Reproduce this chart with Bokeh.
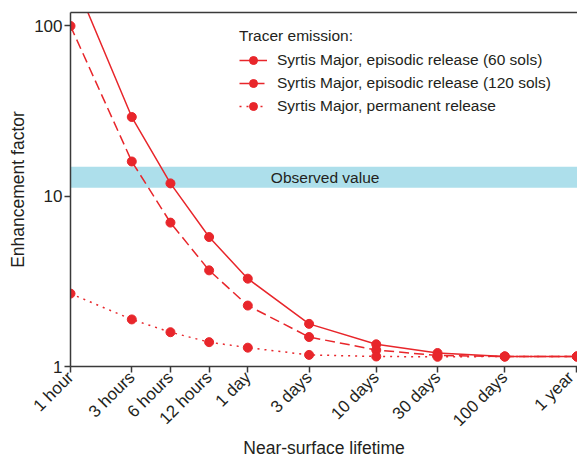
from bokeh.plotting import figure
from bokeh.models import (FixedTicker, LogAxis, BoxAnnotation, Label, Legend, LegendItem, Range1d, Title)
from bokeh.embed import file_html
from bokeh.resources import INLINE

# ---- data ----
lifetime_hours = [1, 3, 6, 12, 24, 72, 240, 720, 2400, 8760]
tick_labels = ["1 hour", "3 hours", "6 hours", "12 hours", "1 day",
               "3 days", "10 days", "30 days", "100 days", "1 year"]
episodic_60 = [210, 29.2, 11.9, 5.76, 3.28, 1.78, 1.35, 1.20, 1.145, 1.145]
episodic_120 = [100, 16.0, 7.0, 3.67, 2.28, 1.49, 1.25, 1.16, 1.145, 1.145]
permanent = [2.68, 1.89, 1.59, 1.39, 1.29, 1.17, 1.145, 1.14, 1.145, 1.145]
observed_low, observed_high = 11.2, 14.9
y_ticks = [1, 10, 100]

RED = "#E8262B"
INK = "#231F20"
AXIS = "#3A3A3A"
FONT = "Liberation Sans"
X_MIN, X_MAX = 1, 8850

p = figure(width=577, height=458, x_axis_type="log", y_axis_type="log",
           x_range=Range1d(X_MIN, X_MAX), y_range=Range1d(1, 120),
           output_backend="svg", toolbar_location=None,
           min_border_left=70, min_border_right=0, min_border_top=12, min_border_bottom=92)
p.outline_line_color = None
p.xgrid.visible = False
p.ygrid.visible = False
p.background_fill_color = "white"

# observed band
band = BoxAnnotation(bottom=observed_low, top=observed_high, fill_color="#ADDFEB",
                     fill_alpha=1.0, line_color=None, level="underlay")
p.add_layout(band)
p.add_layout(Label(x=96, y=(observed_low * observed_high) ** 0.5, text="Observed value",
                   text_align="center", text_baseline="middle",
                   text_font=FONT, text_font_size="15.5px", text_color=INK))

l1 = p.line(lifetime_hours, episodic_60, line_color=RED, line_width=1.5)
s1 = p.scatter(lifetime_hours, episodic_60, size=9, fill_color=RED, line_color=RED)
l2 = p.line(lifetime_hours, episodic_120, line_color=RED, line_width=1.5, line_dash="10 5")
s2 = p.scatter(lifetime_hours, episodic_120, size=9, fill_color=RED, line_color=RED)
l3 = p.line(lifetime_hours, permanent, line_color=RED, line_width=1.5, line_dash="2 5")
s3 = p.scatter(lifetime_hours, permanent, size=9, fill_color=RED, line_color=RED)

legend = Legend(items=[
    LegendItem(label="Syrtis Major, episodic release (60 sols)", renderers=[l1, s1]),
    LegendItem(label="Syrtis Major, episodic release (120 sols)", renderers=[l2, s2]),
    LegendItem(label="Syrtis Major, permanent release", renderers=[l3, s3]),
], location=(169, 250), title="Tracer emission:")
legend.title_text_font = FONT
legend.title_text_font_size = "15.5px"
legend.title_text_font_style = "normal"
legend.title_text_color = INK
legend.title_standoff = 5
legend.label_text_font = FONT
legend.label_text_font_size = "15.5px"
legend.label_text_color = INK
legend.label_standoff = 10
legend.glyph_width = 28
legend.glyph_height = 20
legend.label_height = 20
legend.spacing = 3
legend.padding = 0
legend.margin = 0
legend.border_line_color = None
legend.background_fill_alpha = 0
p.add_layout(legend)

# axes
xa = p.xaxis[0]
xa.ticker = FixedTicker(ticks=lifetime_hours)
xa.major_label_overrides = {t: l for t, l in zip(lifetime_hours, tick_labels)}
xa.major_label_orientation = 0.7854

ya = p.yaxis[0]
ya.ticker = FixedTicker(ticks=y_ticks)
ya.major_label_overrides = {t: str(t) for t in y_ticks}
ya.axis_label = "Enhancement factor"

for ax in (xa, ya):
    ax.axis_line_color = AXIS
    ax.axis_line_width = 1.5
    ax.major_tick_line_color = AXIS
    ax.major_tick_line_width = 1.5
    ax.major_tick_out = 6
    ax.major_tick_in = 0
    ax.minor_tick_line_color = None
    ax.major_label_text_font = FONT
    ax.major_label_text_font_size = "17px"
    ax.major_label_text_color = INK
    ax.major_label_standoff = 2
    ax.axis_label_text_font = FONT
    ax.axis_label_text_font_size = "17.5px"
    ax.axis_label_text_font_style = "normal"
    ax.axis_label_text_color = INK
ya.axis_label_standoff = 3
xa.major_label_standoff = 2

# x-axis title in the bottom margin
p.add_layout(Title(text="Near-surface lifetime", align="center", standoff=-7,
                   text_font=FONT, text_font_size="17.5px", text_font_style="normal",
                   text_color=INK), "below")

top = LogAxis(ticker=FixedTicker(ticks=[]), axis_line_color=AXIS, axis_line_width=1.5,
              major_tick_line_color=None, minor_tick_line_color=None,
              major_label_text_font_size="0px", major_tick_out=0, major_tick_in=0)
p.add_layout(top, "above")

open("out.html", "w").write(file_html(p, INLINE))
